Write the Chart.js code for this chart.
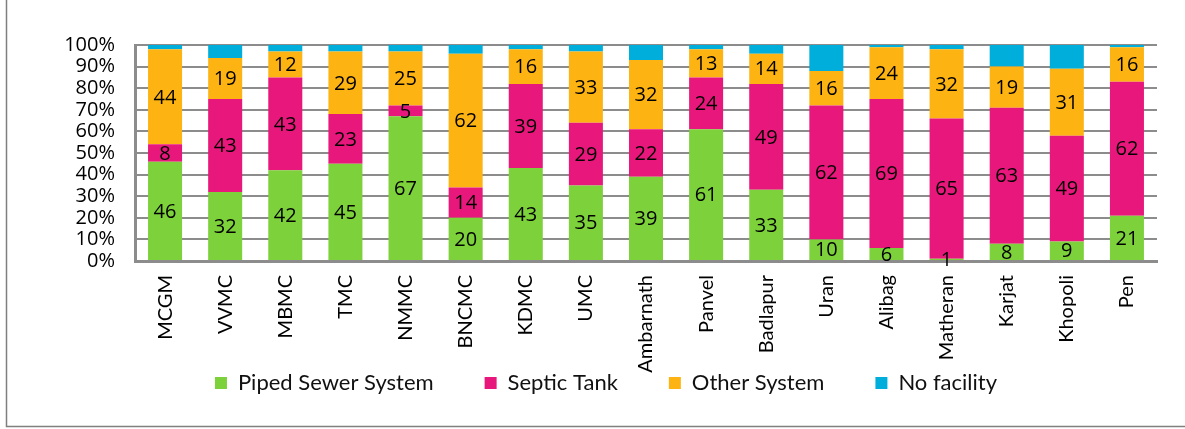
<!DOCTYPE html>
<html>
<head>
<meta charset="utf-8">
<script src="https://cdn.jsdelivr.net/npm/chart.js@4/dist/chart.umd.min.js"></script>
<style>
  html, body { margin: 0; padding: 0; background: #ffffff; }
  #wrap { position: relative; width: 1185px; height: 429px; }
</style>
</head>
<body>
<div id="wrap"><canvas id="c" width="1185" height="429"></canvas></div>
<script>
const categories = ['MCGM','VVMC','MBMC','TMC','NMMC','BNCMC','KDMC','UMC','Ambarnath','Panvel','Badlapur','Uran','Alibag','Matheran','Karjat','Khopoli','Pen'];
const pipedSewer  = [46, 32, 42, 45, 67, 20, 43, 35, 39, 61, 33, 10,  6,  1,  8,  9, 21];
const septicTank  = [ 8, 43, 43, 23,  5, 14, 39, 29, 22, 24, 49, 62, 69, 65, 63, 49, 62];
const otherSystem = [44, 19, 12, 29, 25, 62, 16, 33, 32, 13, 14, 16, 24, 32, 19, 31, 16];
const noFacility  = [ 2,  6,  3,  3,  3,  4,  2,  3,  7,  2,  4, 12,  1,  2, 10, 11,  1];
const yTicks = [0, 10, 20, 30, 40, 50, 60, 70, 80, 90, 100];

const seriesNames = ['Piped Sewer System', 'Septic Tank', 'Other System', 'No facility'];
const seriesColors = ['#7DD13B', '#E8177B', '#FDB412', '#00AEDB'];
const labelledSeries = [true, true, true, false];

const valueLabels = {
  id: 'valueLabels',
  afterDatasetsDraw(chart) {
    const ctx = chart.ctx;
    ctx.save();
    ctx.font = "20px 'Open Sans', sans-serif";
    ctx.fillStyle = '#000000';
    ctx.textAlign = 'center';
    ctx.textBaseline = 'middle';
    chart.data.datasets.forEach((ds, di) => {
      if (!labelledSeries[di]) return;
      const meta = chart.getDatasetMeta(di);
      meta.data.forEach((bar, i) => {
        const v = ds.data[i];
        const yc = (bar.y + bar.base) / 2;
        ctx.fillText(String(v), bar.x, yc + 1);
      });
    });
    ctx.restore();
  }
};

const frame = {
  id: 'frame',
  beforeDraw(chart) {
    const ctx = chart.ctx;
    ctx.save();
    ctx.strokeStyle = '#7f7f7f';
    ctx.lineWidth = 1.5;
    ctx.beginPath();
    ctx.moveTo(6.5, 0);
    ctx.lineTo(6.5, 426.5);
    ctx.lineTo(1185, 426.5);
    ctx.stroke();
    ctx.restore();
  }
};

// let the rotated category labels run past the (fixed-height) x-axis box
const noLabelClip = {
  id: 'noLabelClip',
  afterLayout(chart) {
    chart.scales.x._computeLabelArea = () => null;
  }
};

const datasets = [pipedSewer, septicTank, otherSystem, noFacility].map((arr, i) => ({
  label: seriesNames[i],
  data: arr,
  backgroundColor: seriesColors[i],
  borderWidth: 0,
  categoryPercentage: 1.0,
  barPercentage: 0.566
}));

new Chart(document.getElementById('c'), {
  type: 'bar',
  data: { labels: categories, datasets: datasets },
  plugins: [frame, noLabelClip, valueLabels],
  options: {
    responsive: false,
    animation: false,
    devicePixelRatio: 1,
    layout: { padding: { left: 55, right: 28, top: 45, bottom: 25 } },
    plugins: {
      tooltip: { enabled: false },
      legend: {
        position: 'bottom',
        align: 'center',
        labels: {
          boxWidth: 12,
          boxHeight: 12,
          padding: 51,
          color: '#111111',
          font: { family: "'Lato', sans-serif", size: 22 }
        }
      }
    },
    scales: {
      x: {
        stacked: true,
        grid: { display: false, drawTicks: false },
        border: { display: true, color: '#8c8c8c', width: 3 },
        ticks: {
          autoSkip: false,
          minRotation: 90,
          maxRotation: 90,
          padding: 14,
          color: '#000000',
          font: { family: "'Lato', sans-serif", size: 20 }
        },
        afterFit(scale) { scale.height = 60; }
      },
      y: {
        stacked: true,
        min: 0,
        max: 100,
        afterBuildTicks(scale) { scale.ticks = yTicks.map(v => ({ value: v })); },
        grid: { color: '#8c8c8c', lineWidth: 2, drawTicks: false },
        border: { display: true, color: '#8c8c8c', width: 3 },
        ticks: {
          autoSkip: false,
          padding: 20,
          color: '#000000',
          font: { family: "'Open Sans', sans-serif", size: 20 },
          callback: (v) => v + '%'
        },
        afterFit(scale) { scale.width = 80; }
      }
    }
  }
});
</script>
</body>
</html>
